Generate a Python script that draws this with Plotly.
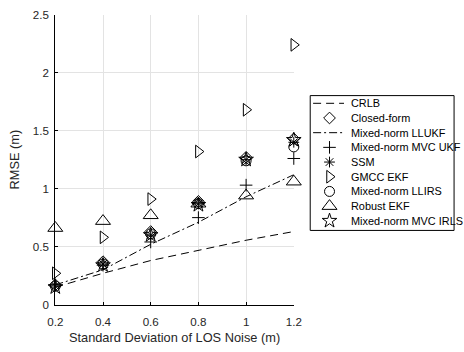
import plotly.graph_objects as go

# Standard deviation of LOS noise (m)
noise_std = [0.2, 0.4, 0.6, 0.8, 1.0, 1.2]

# RMSE (m) of each method
crlb = [0.15, 0.27, 0.38, 0.47, 0.555, 0.63]
closed_form = [0.17, 0.37, 0.63, 0.89, 1.27, 1.43]
mn_llukf = [0.17, 0.30, 0.52, 0.71, 0.93, 1.12]
mn_mvc_ukf = [0.17, 0.34, 0.54, 0.75, 1.03, 1.26]
ssm = [0.16, 0.35, 0.60, 0.87, 1.25, 1.40]
gmcc_ekf = [0.27, 0.58, 0.91, 1.32, 1.68, 2.24]
mn_llirs = [0.16, 0.35, 0.61, 0.87, 1.24, 1.36]
robust_ekf = [0.66, 0.72, 0.77, 0.87, 0.94, 1.06]
mn_mvc_irls = [0.15, 0.34, 0.60, 0.86, 1.25, 1.42]

series_names = ["CRLB", "Closed-form", "Mixed-norm LLUKF", "Mixed-norm MVC UKF",
                "SSM", "GMCC EKF", "Mixed-norm LLIRS", "Robust EKF",
                "Mixed-norm MVC IRLS"]

x_ticks = [0.2, 0.4, 0.6, 0.8, 1.0, 1.2]
x_ticktext = ["0.2", "0.4", "0.6", "0.8", "1", "1.2"]
y_ticks = [0, 0.5, 1, 1.5, 2, 2.5]
y_ticktext = ["0", "0.5", "1", "1.5", "2", "2.5"]

W, H = 464, 352
FONT = "Liberation Sans, Arial, sans-serif"
# plot area in pixels
PL, PR, PT, PB = 49, 296, 8, 309

# style per series: (mode, line dash, marker symbol, marker size)
styles = [
    ("lines", "8px,5px", None, 0),
    ("markers", None, "diamond-open", 9),
    ("lines", "8px,3px,2px,3px", None, 0),
    ("markers", None, "cross-thin-open", 9),
    ("markers", None, "asterisk-open", 9),
    ("markers", None, "triangle-right-open", 11),
    ("markers", None, "circle-open", 10),
    ("markers", None, "triangle-up-open", 13),
    ("markers", None, "star-open", 11),
]
values = [crlb, closed_form, mn_llukf, mn_mvc_ukf, ssm, gmcc_ekf,
          mn_llirs, robust_ekf, mn_mvc_irls]

fig = go.Figure()
for name, vals, (mode, dash, sym, size) in zip(series_names, values, styles):
    if mode == "lines":
        fig.add_trace(go.Scatter(x=noise_std, y=vals, mode="lines", name=name,
                                 line=dict(color="black", width=1, dash=dash),
                                 cliponaxis=False, showlegend=False))
    else:
        fig.add_trace(go.Scatter(x=noise_std, y=vals, mode="markers", name=name,
                                 marker=dict(symbol=sym, size=size, color="black",
                                             line=dict(color="black", width=1)),
                                 cliponaxis=False, showlegend=False))

# hand-built legend on a pixel-space overlay axis
LX0, LY0, LX1, LY1 = 313, 92, 462, 232
row0, row_step = 100.0, 15.25
for i, (name, (mode, dash, sym, size)) in enumerate(zip(series_names, styles)):
    yy = row0 + i * row_step
    if mode == "lines":
        fig.add_trace(go.Scatter(x=[316, 348], y=[yy, yy], mode="lines",
                                 line=dict(color="black", width=1, dash=dash),
                                 xaxis="x2", yaxis="y2", showlegend=False,
                                 hoverinfo="skip"))
    else:
        fig.add_trace(go.Scatter(x=[333], y=[yy], mode="markers",
                                 marker=dict(symbol=sym, size=size, color="black",
                                             line=dict(color="black", width=1)),
                                 xaxis="x2", yaxis="y2", showlegend=False,
                                 hoverinfo="skip"))
    fig.add_annotation(x=354 / W, y=1 - yy / H, xref="paper", yref="paper",
                       text=name, showarrow=False, xanchor="left", yanchor="middle",
                       borderpad=0,
                       font=dict(family=FONT, size=10.9, color="black"))

fig.add_shape(type="rect", xref="paper", yref="paper",
              x0=LX0 / W, x1=LX1 / W, y0=1 - LY1 / H, y1=1 - LY0 / H,
              line=dict(color="black", width=1), fillcolor="rgba(0,0,0,0)")

grid = "#e3e3e3"
fig.update_layout(
    width=W, height=H,
    margin=dict(l=0, r=0, t=0, b=0),
    paper_bgcolor="white",
    plot_bgcolor="rgba(0,0,0,0)",
    font=dict(family=FONT, size=11.6, color="black"),
    xaxis=dict(domain=[PL / W, PR / W], range=[0.2, 1.2],
               tickvals=x_ticks, ticktext=x_ticktext,
               showline=True, linecolor="black", linewidth=1, mirror=False,
               showgrid=True, gridcolor=grid, gridwidth=1, zeroline=False,
               ticks="inside", ticklen=3, tickcolor="black",
               ticklabelstandoff=6,
               tickfont=dict(family=FONT, size=11.6, color="#262626"),
               title=dict(text="Standard Deviation of LOS Noise (m)",
                          font=dict(family=FONT, size=12.8, color="#262626"),
                          standoff=6),
               anchor="y"),
    yaxis=dict(domain=[1 - PB / H, 1 - PT / H], range=[0, 2.5],
               tickvals=y_ticks, ticktext=y_ticktext,
               showline=True, linecolor="black", linewidth=1, mirror=False,
               showgrid=True, gridcolor=grid, gridwidth=1, zeroline=False,
               ticks="inside", ticklen=3, tickcolor="black",
               ticklabelstandoff=3,
               tickfont=dict(family=FONT, size=11.6, color="#262626"),
               title=dict(text="RMSE (m)",
                          font=dict(family=FONT, size=12.8, color="#262626"),
                          standoff=10),
               anchor="x"),
    xaxis2=dict(domain=[0, 1], range=[0, W], visible=False, anchor="y2",
                fixedrange=True),
    yaxis2=dict(domain=[0, 1], range=[H, 0], visible=False, anchor="x2",
                fixedrange=True),
)

fig.write_html("out.html")
